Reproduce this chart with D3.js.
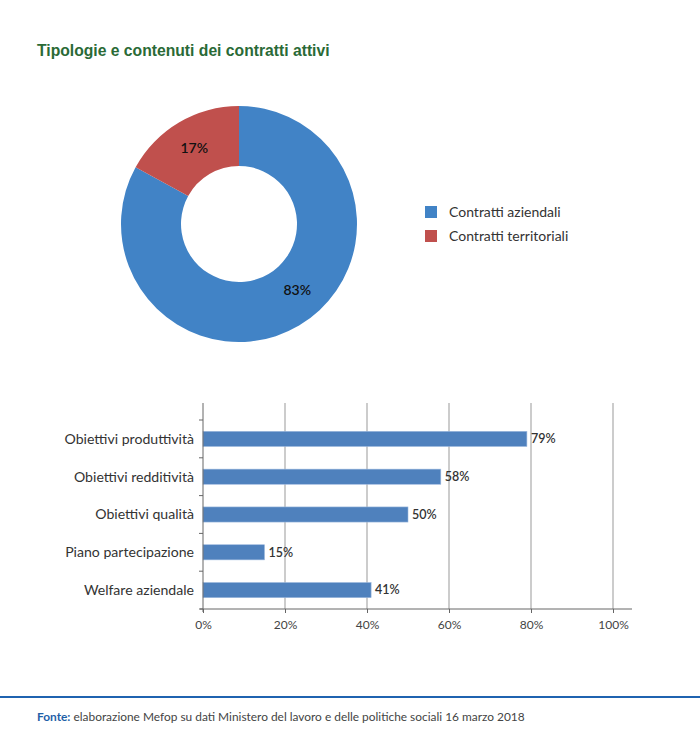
<!DOCTYPE html>
<html>
<head>
<meta charset="utf-8">
<script src="https://cdn.jsdelivr.net/npm/d3@7"></script>
<style>
body{margin:0;background:#fff;}
svg{display:block;}
</style>
</head>
<body>
<svg id="c" width="700" height="740"></svg>
<script>
const pieLabels = ["Contratti aziendali", "Contratti territoriali"];
const pieValues = [83, 17];
const pieColors = ["#4183c6", "#c0504d"];

const barCategories = ["Obiettivi produttività", "Obiettivi redditività", "Obiettivi qualità", "Piano partecipazione", "Welfare aziendale"];
const barValues = [79, 58, 50, 15, 41];
const xTicks = [0, 20, 40, 60, 80, 100];

const svg = d3.select("#c");
const font = "Lato, 'Open Sans', sans-serif";

svg.append("text").attr("x", 37).attr("y", 56)
  .attr("font-family", "'Liberation Sans', Arial, sans-serif").attr("font-weight", "bold")
  .attr("font-size", 15.7).attr("fill", "#2a6a36")
  .text("Tipologie e contenuti dei contratti attivi");

// Donut
const cx = 239, cy = 224, rO = 118, rI = 58;
const pie = d3.pie().sort(null).value(d => d)(pieValues);
const arc = d3.arc().innerRadius(rI).outerRadius(rO);
const g = svg.append("g").attr("transform", `translate(${cx},${cy})`);
g.selectAll("path").data(pie).join("path")
  .attr("d", arc).attr("fill", (d, i) => pieColors[i]);
const rMid = (rI + rO) / 2;
// label angle: centroid for small slice; large slice label sits nearer the lower-right
const labelAngle = d => (d.endAngle - d.startAngle > Math.PI ? (d.startAngle + d.endAngle) / 2 - 0.19 : (d.startAngle + d.endAngle) / 2);
g.selectAll("text").data(pie).join("text")
  .attr("transform", d => { const a = labelAngle(d); return `translate(${rMid * Math.sin(a)},${-rMid * Math.cos(a)})`; })
  .attr("text-anchor", "middle").attr("dy", "0.35em")
  .attr("font-family", font).attr("font-weight", 600).attr("font-size", 14).attr("fill", "#111")
  .text(d => d.data + "%");

// Legend
const leg = svg.append("g");
pieLabels.forEach((l, i) => {
  leg.append("rect").attr("x", 425).attr("y", 206 + i * 24).attr("width", 12).attr("height", 12).attr("fill", pieColors[i]);
  leg.append("text").attr("x", 449).attr("y", 212 + i * 24).attr("dy", "0.35em")
    .attr("font-family", font).attr("font-size", 14).attr("fill", "#333").text(l);
});

// Bar chart
const x = d3.scaleLinear().domain([0, 100]).range([203, 613]);
const y = d3.scaleBand().domain(barCategories).range([420, 609]).paddingInner(0.6).paddingOuter(0.3);
const bg = svg.append("g");

bg.selectAll("line.grid").data(xTicks.slice(1)).join("line")
  .attr("class", "grid").attr("x1", d => x(d)).attr("x2", d => x(d))
  .attr("y1", 403).attr("y2", 609).attr("stroke", "#999").attr("stroke-width", 1);

bg.selectAll("rect").data(barCategories).join("rect")
  .attr("x", x(0)).attr("y", d => y(d)).attr("width", (d, i) => x(barValues[i]) - x(0))
  .attr("height", y.bandwidth()).attr("fill", "#4f81bd").attr("stroke", "#9bb7dd").attr("stroke-width", 0.6);

bg.selectAll("text.val").data(barCategories).join("text")
  .attr("class", "val").attr("x", (d, i) => x(barValues[i]) + 4).attr("y", d => y(d) + y.bandwidth() / 2)
  .attr("dy", "0.35em").attr("font-family", font).attr("font-weight", 600).attr("font-size", 12.5).attr("fill", "#333")
  .text((d, i) => barValues[i] + "%");

// Y axis
bg.append("line").attr("x1", 203).attr("x2", 203).attr("y1", 403).attr("y2", 612).attr("stroke", "#666");
const bounds = d3.range(barCategories.length + 1).map(i => 420 + i * (189 / 5));
bg.selectAll("line.yt").data(bounds).join("line").attr("class", "yt")
  .attr("x1", 199).attr("x2", 203).attr("y1", d => d).attr("y2", d => d).attr("stroke", "#666");
bg.selectAll("text.cat").data(barCategories).join("text").attr("class", "cat")
  .attr("x", 194).attr("y", d => y(d) + y.bandwidth() / 2).attr("dy", "0.35em").attr("text-anchor", "end")
  .attr("font-family", font).attr("font-size", 14.1).attr("fill", "#333").text(d => d);

// X axis
const xAxis = d3.axisBottom(x).tickValues(xTicks).tickFormat(d => d + "%").tickSize(4).tickSizeOuter(0);
const xa = bg.append("g").attr("transform", "translate(0,609)").call(xAxis);
xa.select(".domain").attr("d", "M200,0H632").attr("stroke", "#666");
xa.selectAll(".tick line").attr("stroke", "#666");
xa.selectAll("text").attr("font-family", font).attr("font-size", 12).attr("fill", "#444").attr("dy", "1.1em");

// Footer
svg.append("line").attr("x1", 0).attr("x2", 700).attr("y1", 697).attr("y2", 697).attr("stroke", "#1f63b0").attr("stroke-width", 2);
const ft = svg.append("text").attr("x", 37).attr("y", 721).attr("font-family", font).attr("font-size", 11.9).attr("fill", "#444");
ft.append("tspan").attr("font-weight", "bold").attr("fill", "#1f5fa8").text("Fonte:");
ft.append("tspan").text(" elaborazione Mefop su dati Ministero del lavoro e delle politiche sociali 16 marzo 2018");
</script>
</body>
</html>
